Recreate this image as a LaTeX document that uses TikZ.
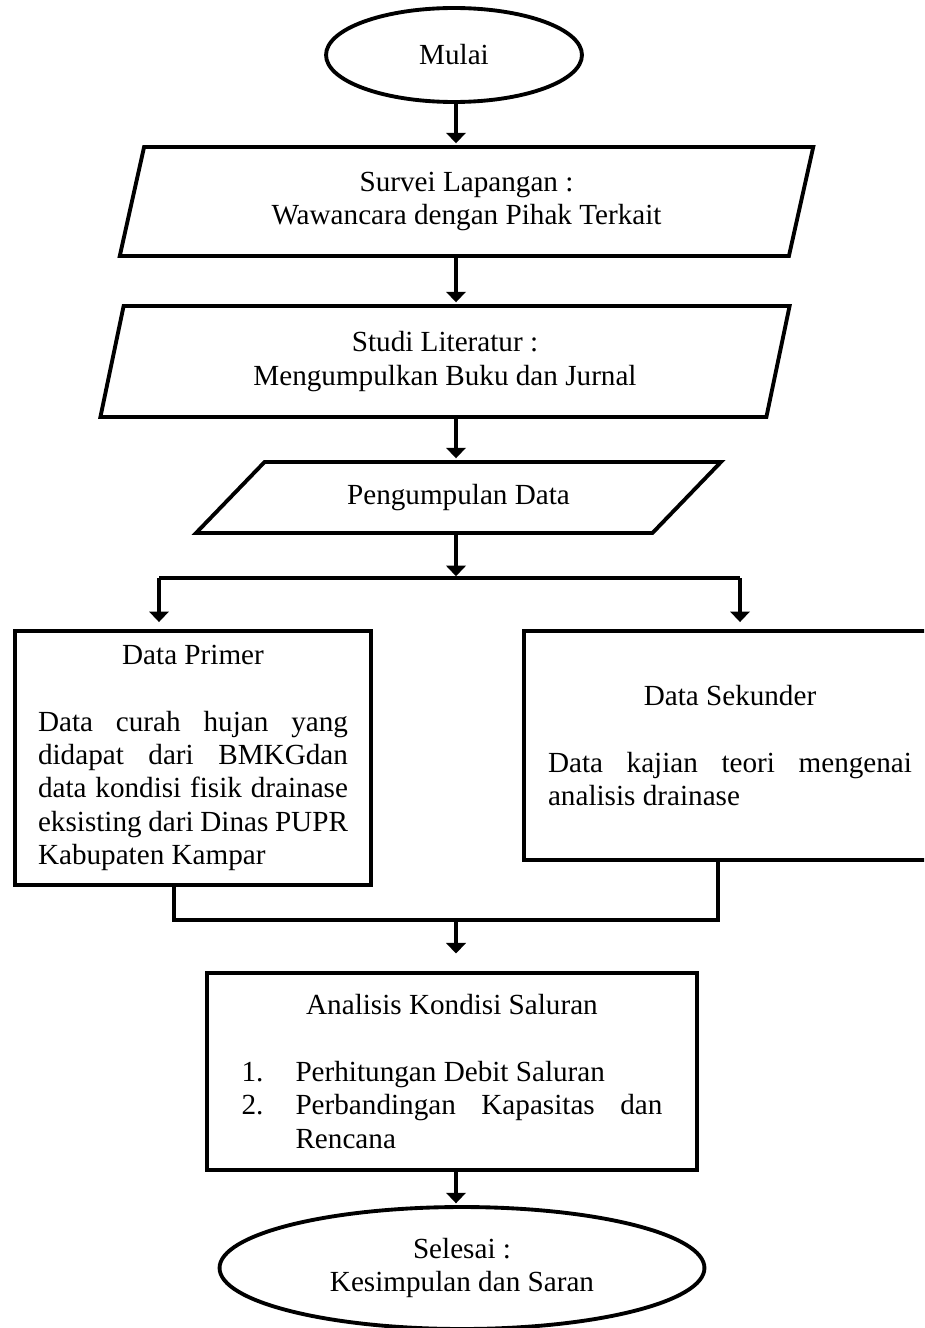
\documentclass[tikz,border=0pt]{standalone}
\usepackage{fontspec}
\setmainfont{Liberation Serif}
\usetikzlibrary{arrows.meta,shapes.geometric}
\parindent=0pt
\hyphenpenalty=10000
\tolerance=9999
\emergencystretch=2em
\newcommand{\numitem}[2]{\par\noindent\hangindent=1.08cm\hangafter=1\makebox[1.08cm][l]{#1}#2\par}

\begin{document}
\begin{tikzpicture}[
  x=0.02cm, y=-0.02cm,
  font=\fontsize{16.6}{19}\selectfont,
  shp/.style={draw, line width=2.2pt, inner sep=0pt, align=center},
  sterm/.style={shp, ellipse},
  sio/.style={shp, trapezium, trapezium stretches=true},
  sproc/.style={shp, rectangle, align=justify},
  arr/.style={-{Triangle[length=6pt,width=11pt]}, line width=2.6pt, shorten >=1pt},
  ln/.style={line width=2.3pt}
]
\clip (0,0) rectangle (924,1328);

%% ── nodes ───────────────────────────────────────────────────────────────
\node[sterm, minimum width=5.12cm, minimum height=1.88cm] (mulai) at (454,55) {Mulai};

\node[sio, trapezium left angle=76, trapezium right angle=104,
      minimum width=13.9cm, minimum height=2.18cm] (survei) at (466.5,201.5)
      {Survei Lapangan :\\ Wawancara dengan Pihak Terkait};
\node[sio, trapezium left angle=77, trapezium right angle=103,
      minimum width=13.8cm, minimum height=2.22cm] (studi) at (445,361.5)
      {Studi Literatur :\\ Mengumpulkan Buku dan Jurnal};
\node[sio, trapezium left angle=34, trapezium right angle=146,
      minimum width=10.5cm, minimum height=1.42cm] (kumpul) at (458.5,497.5)
      {Pengumpulan Data};

%% Data boxes (two columns)
\node[sproc, text width=6.2cm, minimum width=7.12cm, minimum height=5.08cm] (primer) at (193,758)
      {{\centering Data Primer\par}\vspace{\baselineskip}
       Data curah hujan yang didapat dari BMKGdan data kondisi fisik drainase eksisting dari Dinas PUPR Kabupaten Kampar};
\node[sproc, text width=7.28cm, minimum width=8.24cm, minimum height=4.58cm] (sekunder) at (730,745.5)
      {{\centering Data Sekunder\par}\vspace{\baselineskip}
       Data kajian teori mengenai analisis drainase};

%% Analysis and end
\node[sproc, text width=8.42cm, minimum width=9.8cm, minimum height=3.94cm] (analisis) at (452,1071.5)
      {{\centering Analisis Kondisi Saluran\par}\vspace{\baselineskip}
       \numitem{1.}{Perhitungan Debit Saluran}
       \numitem{2.}{Perbandingan Kapasitas dan Rencana}};
\node[sterm, minimum width=9.7cm, minimum height=2.44cm] (selesai) at (462,1268)
      {Selesai :\\ Kesimpulan dan Saran};

%% ── helper coordinates ──────────────────────────────────────────────────
\coordinate (spine)  at (456,0);
\coordinate (split)  at (456,578);
\coordinate (splitL) at (159,578);
\coordinate (splitR) at (740,578);
\coordinate (mergeL) at (174,920);
\coordinate (mergeR) at (718,920);

%% ── edges ───────────────────────────────────────────────────────────────
\draw[arr] (spine |- mulai.south)  -- (spine |- survei.north);
\draw[arr] (spine |- survei.south) -- (spine |- studi.north);
\draw[arr] (spine |- studi.south)  -- (spine |- kumpul.north);
\draw[arr] (spine |- kumpul.south) -- (split);

% split to both data boxes
\draw[ln] (splitL) -- (splitR);
\draw[arr, shorten >=4pt] (splitL) -- (splitL |- primer.north);
\draw[arr, shorten >=4pt] (splitR) -- (splitR |- sekunder.north);

% merge into analysis
\draw[ln] (mergeL |- primer.south) -- (mergeL) -- (mergeR) -- (mergeR |- sekunder.south);
\draw[arr, shorten >=10pt] (spine |- mergeL) -- (spine |- analisis.north);

\draw[arr] (spine |- analisis.south) -- (spine |- selesai.north);

\end{tikzpicture}
\end{document}
